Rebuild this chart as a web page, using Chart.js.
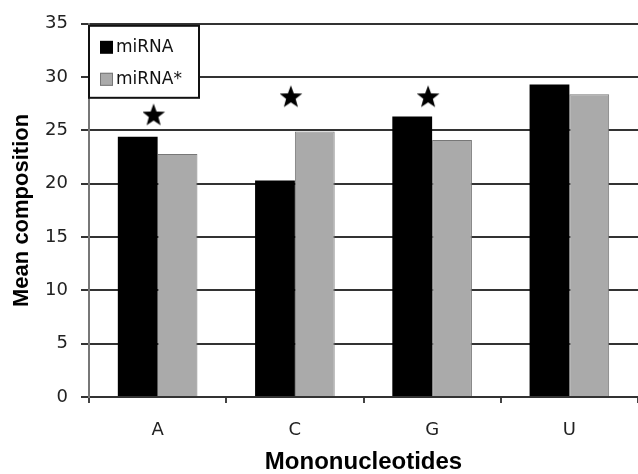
<!DOCTYPE html>
<html>
<head>
<meta charset="utf-8">
<script src="https://cdn.jsdelivr.net/npm/chart.js@4.4.1/dist/chart.umd.min.js"></script>
<style>
  html, body { margin: 0; padding: 0; background: #fff; }
  #wrap { width: 638px; height: 474px; }
</style>
</head>
<body>
<div id="wrap"><canvas id="chart"></canvas></div>
<script>
const categories = ["A", "C", "G", "U"];
const mirnaValues = [24.4, 20.3, 26.3, 29.3];
const starValues = [22.8, 24.9, 24.1, 28.4];
// significance markers (star symbols above the pairs)
const significance = [26.4, 28.1, 28.1, null];
const yTicks = [0, 5, 10, 15, 20, 25, 30, 35];

// star glyph used as point style
function makeStar() {
    const c = document.createElement("canvas");
    c.width = 30;
    c.height = 30;
    const g = c.getContext("2d");
    const cx = 11, cy = 15, ro = 12, ri = 5;
    g.beginPath();
    for (let i = 0; i < 10; i++) {
        const r = i % 2 === 0 ? ro : ri;
        const a = -Math.PI / 2 + i * Math.PI / 5;
        const x = cx + r * Math.cos(a);
        const y = cy + r * Math.sin(a);
        if (i === 0) g.moveTo(x, y); else g.lineTo(x, y);
    }
    g.closePath();
    g.fillStyle = "#000";
    g.fill();
    return c;
}

const boxLegend = {
    id: "boxLegend",
    afterDraw(chart) {
        const ctx = chart.ctx;
        const area = chart.chartArea;
        const x = area.left, y = area.top + 2;
        ctx.save();
        ctx.fillStyle = "#fff";
        ctx.fillRect(x, y, 110, 72);
        ctx.strokeStyle = "#111";
        ctx.lineWidth = 2;
        ctx.strokeRect(x, y, 110, 72);
        ctx.font = "17px 'DejaVu Sans'";
        ctx.textBaseline = "middle";
        chart.data.datasets.slice(0, 2).forEach((ds, i) => {
            const ry = y + 21 + i * 32;
            ctx.fillStyle = ds.backgroundColor;
            ctx.fillRect(x + 11, ry - 6, 13, 13);
            if (ds.borderWidth) {
                ctx.strokeStyle = ds.borderColor;
                ctx.lineWidth = 1;
                ctx.strokeRect(x + 11.5, ry - 5.5, 12, 12);
            }
            ctx.fillStyle = "#111";
            ctx.fillText(ds.label, x + 27, ry + 1);
        });
        ctx.restore();
    }
};

new Chart(document.getElementById("chart"), {
    type: "bar",
    data: {
        labels: categories,
        datasets: [
            {
                label: "miRNA",
                data: mirnaValues,
                backgroundColor: "#000000",
                borderWidth: 0,
                barPercentage: 1,
                categoryPercentage: 0.58,
                order: 2
            },
            {
                label: "miRNA*",
                data: starValues,
                backgroundColor: "#aaaaaa",
                borderColor: "#777777",
                borderWidth: 1,
                barPercentage: 1,
                categoryPercentage: 0.58,
                order: 2
            },
            {
                type: "line",
                label: "sig",
                data: significance,
                showLine: false,
                pointStyle: makeStar(),
                order: 1
            }
        ]
    },
    options: {
        responsive: true,
        maintainAspectRatio: false,
        animation: false,
        layout: { autoPadding: false, padding: { top: 21, right: 0, left: 0, bottom: 0 } },
        plugins: {
            legend: { display: false },
            tooltip: { enabled: false }
        },
        scales: {
            x: {
                offset: true,
                grid: {
                    offset: true,
                    drawOnChartArea: false,
                    drawTicks: true,
                    tickLength: 6,
                    color: "#444",
                    lineWidth: 2
                },
                border: { display: true, color: "#333", width: 2 },
                ticks: {
                    color: "#222",
                    font: { family: "DejaVu Sans", size: 18 },
                    padding: 17
                },
                title: {
                    display: true,
                    text: "Mononucleotides",
                    color: "#000",
                    font: { family: "Liberation Sans", size: 24, weight: "bold", lineHeight: 1 },
                    padding: { top: 4, bottom: 0 }
                },
                afterFit(scale) {
                    scale.height = 77;
                    scale.paddingLeft = 0;
                    scale.paddingRight = 0;
                }
            },
            y: {
                min: 0,
                max: 35,
                afterBuildTicks(scale) {
                    scale.ticks = yTicks.map(v => ({ value: v }));
                },
                grid: {
                    color: "#333",
                    lineWidth: 2,
                    drawTicks: true,
                    tickLength: 8
                },
                border: { display: true, color: "#777", width: 2 },
                ticks: {
                    color: "#222",
                    font: { family: "DejaVu Sans", size: 18 },
                    padding: 13
                },
                title: {
                    display: true,
                    text: "Mean composition",
                    color: "#000",
                    font: { family: "Liberation Sans", size: 22, weight: "bold" },
                    padding: { top: 9, bottom: 0 }
                },
                afterFit(scale) { scale.width = 89; }
            }
        }
    },
    plugins: [boxLegend]
});
</script>
</body>
</html>
